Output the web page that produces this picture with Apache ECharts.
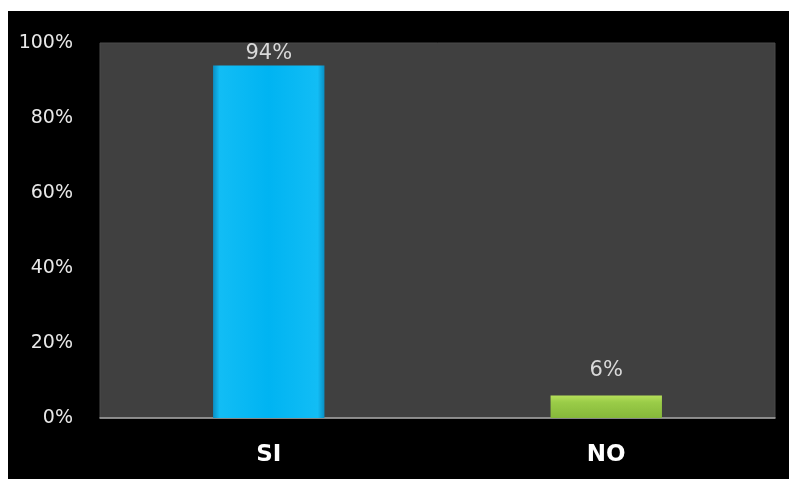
<!DOCTYPE html>
<html>
<head>
<meta charset="utf-8">
<script src="https://cdn.jsdelivr.net/npm/echarts@6/dist/echarts.min.js"></script>
<style>
  html, body { margin: 0; padding: 0; background: #ffffff; width: 789px; height: 479px; overflow: hidden; }
  #chart { position: absolute; left: 8px; top: 11px; width: 781px; height: 468px; background: #000000; }
</style>
</head>
<body>
<div id="chart"></div>
<script>
// Survey answers and their shares (percent)
const categories = ['SI', 'NO'];
const shares = [94, 6];
const yTicks = [0, 20, 40, 60, 80, 100];
// Gap between each bar top and its value label
const labelGaps = [1, 14];

const barColors = [
  new echarts.graphic.LinearGradient(0, 0, 1, 0, [
    { offset: 0, color: '#0a8fc4' },
    { offset: 0.06, color: '#12bdf5' },
    { offset: 0.5, color: '#00b4f2' },
    { offset: 0.94, color: '#12bdf5' },
    { offset: 1, color: '#0a8fc4' }
  ]),
  new echarts.graphic.LinearGradient(0, 0, 0, 1, [
    { offset: 0, color: '#b6e05a' },
    { offset: 0.3, color: '#9acc48' },
    { offset: 1, color: '#86b83a' }
  ])
];

const chart = echarts.init(document.getElementById('chart'));
chart.setOption({
  animation: false,
  backgroundColor: '#000000',
  grid: {
    left: 92, right: 14, top: 32, bottom: 61,
    show: true, backgroundColor: '#404040', borderColor: '#4a4a4a', borderWidth: 1
  },
  xAxis: {
    type: 'category',
    data: categories,
    axisLine: { show: true, lineStyle: { color: '#a6a6a6', width: 1.5 } },
    axisTick: { show: false },
    axisLabel: { color: '#ffffff', fontFamily: 'DejaVu Sans', fontWeight: 'bold', fontSize: 23, margin: 26 }
  },
  yAxis: {
    type: 'value',
    min: yTicks[0], max: yTicks[yTicks.length - 1], interval: 20,
    axisLine: { show: false },
    axisTick: { show: false },
    splitLine: { show: false },
    axisLabel: {
      color: '#e8e8e8', fontFamily: 'DejaVu Sans', fontSize: 19, margin: 27,
      formatter: v => v + '%'
    }
  },
  series: [{
    type: 'bar',
    barWidth: '33%',
    barGap: 0,
    data: shares.map((v, i) => ({
      value: v,
      itemStyle: { color: barColors[i] },
      label: { distance: labelGaps[i] }
    })),
    label: {
      show: true, position: 'top',
      color: '#d9d9d9', fontFamily: 'DejaVu Sans', fontSize: 21,
      formatter: p => p.value + '%'
    }
  }]
});
</script>
</body>
</html>
